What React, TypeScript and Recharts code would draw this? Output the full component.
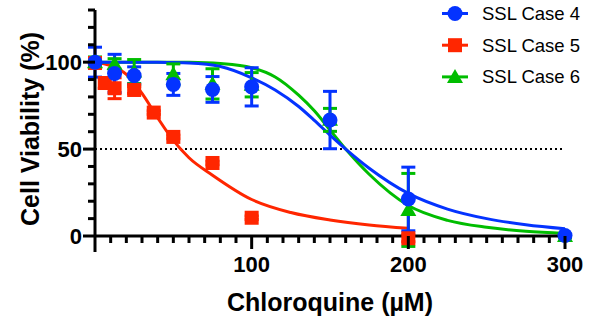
import React from 'react';
import { ComposedChart, XAxis, YAxis, Line, Scatter, ErrorBar, ReferenceLine, Legend, Label } from 'recharts';

const FONT = '"Liberation Sans", Arial, Helvetica, sans-serif';

const BLUE = '#0433ff';
const RED = '#ff2600';
const GREEN = '#00bd00';

// axis ticks
const xTicks = [0, 10, 20, 30, 40, 50, 60, 70, 80, 90, 100, 110, 120, 130, 140, 150, 160, 170, 180, 190, 200, 210, 220, 230, 240, 250, 260, 270, 280, 290, 300];
const yTicks = [0, 10, 20, 30, 40, 50, 60, 70, 80, 90, 100, 110, 120, 130];
const xTickLabels = [100, 200, 300];
const yTickLabels = [0, 50, 100];

// measured points (mean +/- error)
const case4Conc = [0, 12.5, 25, 50, 75, 100, 150, 200, 300];
const case4Mean = [100, 93.5, 92.3, 87.2, 84.3, 85.8, 66.7, 21.3, 0.3];
const case4Err = [8.6, 11, 5, 6.3, 7.4, 11, 16.5, 18.3, 0];

const case5Conc = [0, 6.25, 12.5, 25, 37.5, 50, 75, 100, 200];
const case5Mean = [99.5, 88, 85, 84, 71, 57, 42, 10.5, -1.3];
const case5Err = [2, 3, 6, 2, 1, 1, 1, 1, 2];

const case6Conc = [0, 12.5, 25, 50, 75, 100, 150, 200, 300];
const case6Mean = [100, 99, 94.6, 93, 87.5, 87, 66.8, 15, 0];
const case6Err = [3, 3, 6.9, 6, 8.7, 7, 6.6, 21, 1];

// fitted curves
const fitConc = [0, 20, 40, 60, 80, 100, 115, 130, 140, 150, 160, 175, 200, 225, 250, 275, 300];
const case4Fit = [100, 100, 99.9, 99.5, 97.5, 91, 84, 74.5, 66.5, 58, 50, 39, 24.5, 15.5, 10, 6.5, 4.2];
const case6Fit = [100, 100, 100, 99.9, 99.2, 96.8, 91.5, 81, 72, 61, 50, 35.5, 17.5, 9, 5, 2.7, 1.5];
const case5FitConc = [0, 10, 20, 30, 40, 50, 60, 75, 100, 125, 150, 175, 200];
const case5Fit = [100, 98, 93, 82, 68, 55, 45, 35, 21, 13.5, 9.2, 6.3, 4.4];

const legendNames = ['SSL Case 4', 'SSL Case 5', 'SSL Case 6'];

const toPoints = (xs: number[], ys: number[], errs?: number[]) =>
  xs.map((x, i) => ({ x, y: ys[i], err: errs ? errs[i] : 0 }));

const case4Points = toPoints(case4Conc, case4Mean, case4Err);
const case5Points = toPoints(case5Conc, case5Mean, case5Err);
const case6Points = toPoints(case6Conc, case6Mean, case6Err);
const case4Curve = toPoints(fitConc, case4Fit);
const case6Curve = toPoints(fitConc, case6Fit);
const case5Curve = toPoints(case5FitConc, case5Fit);

const Circle = (p: any) => <circle cx={p.cx} cy={p.cy} r={7.5} fill={BLUE} />;
const Square = (p: any) => <rect x={p.cx - 7} y={p.cy - 7} width={14} height={14} fill={RED} />;
const Triangle = (p: any) => (
  <polygon points={`${p.cx},${p.cy - 8} ${p.cx - 8},${p.cy + 6} ${p.cx + 8},${p.cy + 6}`} fill={GREEN} />
);

const XTick = (props: any) => {
  const { x, y, payload } = props;
  const v = payload.value;
  const labeled = xTickLabels.includes(v);
  const len = v === 0 ? 16 : labeled ? 13 : 7;
  return (
    <g>
      <line x1={x} y1={y} x2={x} y2={y + len} stroke="#000" strokeWidth={3} />
      {labeled && (
        <text x={x} y={y + 36} textAnchor="middle" fontSize={22} fontWeight="bold" fontFamily={FONT} fill="#000">
          {v}
        </text>
      )}
    </g>
  );
};

const YTick = (props: any) => {
  const { x, y, payload } = props;
  const v = payload.value;
  const labeled = yTickLabels.includes(v);
  return (
    <g>
      <line x1={x} y1={y} x2={x - (labeled ? 12 : 7)} y2={y} stroke="#000" strokeWidth={3} />
      {labeled && (
        <text x={x - 13} y={y + 8} textAnchor="end" fontSize={22} fontWeight="bold" fontFamily={FONT} fill="#000">
          {v}
        </text>
      )}
    </g>
  );
};

const markers = [
  (cx: number, cy: number) => <circle cx={cx} cy={cy} r={7.5} fill={BLUE} />,
  (cx: number, cy: number) => <rect x={cx - 7} y={cy - 7} width={14} height={14} fill={RED} />,
  (cx: number, cy: number) => (
    <polygon points={`${cx},${cy - 8} ${cx - 8},${cy + 6} ${cx + 8},${cy + 6}`} fill={GREEN} />
  ),
];
const legendColors = [BLUE, RED, GREEN];

const LegendBox = () => (
  <svg width={157} height={95}>
    {legendNames.map((name, i) => {
      const cy = 13.5 + i * 31.7;
      return (
        <g key={name}>
          <line x1={7} y1={cy} x2={33} y2={cy} stroke={legendColors[i]} strokeWidth={3} />
          {markers[i](20, cy)}
          <text x={47} y={cy + 6.5} fontSize={18.5} fontFamily={FONT} fill="#000">
            {name}
          </text>
        </g>
      );
    })}
  </svg>
);

export default function App() {
  return (
    <div style={{ position: 'absolute', left: 0, top: 0 }}>
      <style>{'.recharts-wrapper [clip-path]{clip-path:none !important;}'}</style>
      <ComposedChart width={592} height={320} margin={{ top: 10, right: 27, bottom: 0, left: 35 }}>
        <XAxis
          dataKey="x"
          type="number"
          domain={[0, 300]}
          ticks={xTicks}
          interval={0}
          tickSize={0}
          tickMargin={0}
          tickLine={false}
          tick={<XTick />}
          height={84}
          axisLine={{ stroke: '#000', strokeWidth: 3 }}
        >
          <Label
            value="Chloroquine (µM)"
            position="insideBottom"
            offset={9}
            style={{ fontSize: 25, fontWeight: 'bold', fontFamily: FONT, fill: '#000' }}
          />
        </XAxis>
        <YAxis
          type="number"
          domain={[0, 130]}
          ticks={yTicks}
          interval={0}
          allowDataOverflow
          tickSize={0}
          tickMargin={0}
          tickLine={false}
          tick={<YTick />}
          width={60}
          axisLine={{ stroke: '#000', strokeWidth: 3 }}
        >
          <Label
            content={(p: any) => {
              const vb = p.viewBox || { x: 35, y: 10, width: 60, height: 226 };
              const cx = vb.x + 4;
              const cy = vb.y + vb.height / 2 + 6;
              return (
                <text
                  x={cx}
                  y={cy}
                  transform={`rotate(-90 ${cx} ${cy})`}
                  textAnchor="middle"
                  fontSize={25}
                  fontWeight="bold"
                  fontFamily={FONT}
                  fill="#000"
                >
                  Cell Viability (%)
                </text>
              );
            }}
          />
        </YAxis>
        <ReferenceLine y={50} stroke="#000" strokeWidth={2} strokeDasharray="2 3" />
        <Line data={case5Curve} dataKey="y" type="monotone" stroke={RED} strokeWidth={3} dot={false} legendType="none" isAnimationActive={false} />
        <Line data={case6Curve} dataKey="y" type="monotone" stroke={GREEN} strokeWidth={3} dot={false} legendType="none" isAnimationActive={false} />
        <Line data={case4Curve} dataKey="y" type="monotone" stroke={BLUE} strokeWidth={3} dot={false} legendType="none" isAnimationActive={false} />
        <Scatter name="SSL Case 5" data={case5Points} dataKey="y" shape={Square} isAnimationActive={false}>
          <ErrorBar dataKey="err" direction="y" width={7} stroke={RED} strokeWidth={3} />
        </Scatter>
        <Scatter name="SSL Case 6" data={case6Points} dataKey="y" shape={Triangle} isAnimationActive={false}>
          <ErrorBar dataKey="err" direction="y" width={7} stroke={GREEN} strokeWidth={3} />
        </Scatter>
        <Scatter name="SSL Case 4" data={case4Points} dataKey="y" shape={Circle} isAnimationActive={false}>
          <ErrorBar dataKey="err" direction="y" width={7} stroke={BLUE} strokeWidth={3} />
        </Scatter>
        <Legend
          layout="vertical"
          align="center"
          verticalAlign="middle"
          content={() => <LegendBox />}
          wrapperStyle={{ left: 435, top: 0, width: 157, height: 95 }}
        />
      </ComposedChart>
    </div>
  );
}
